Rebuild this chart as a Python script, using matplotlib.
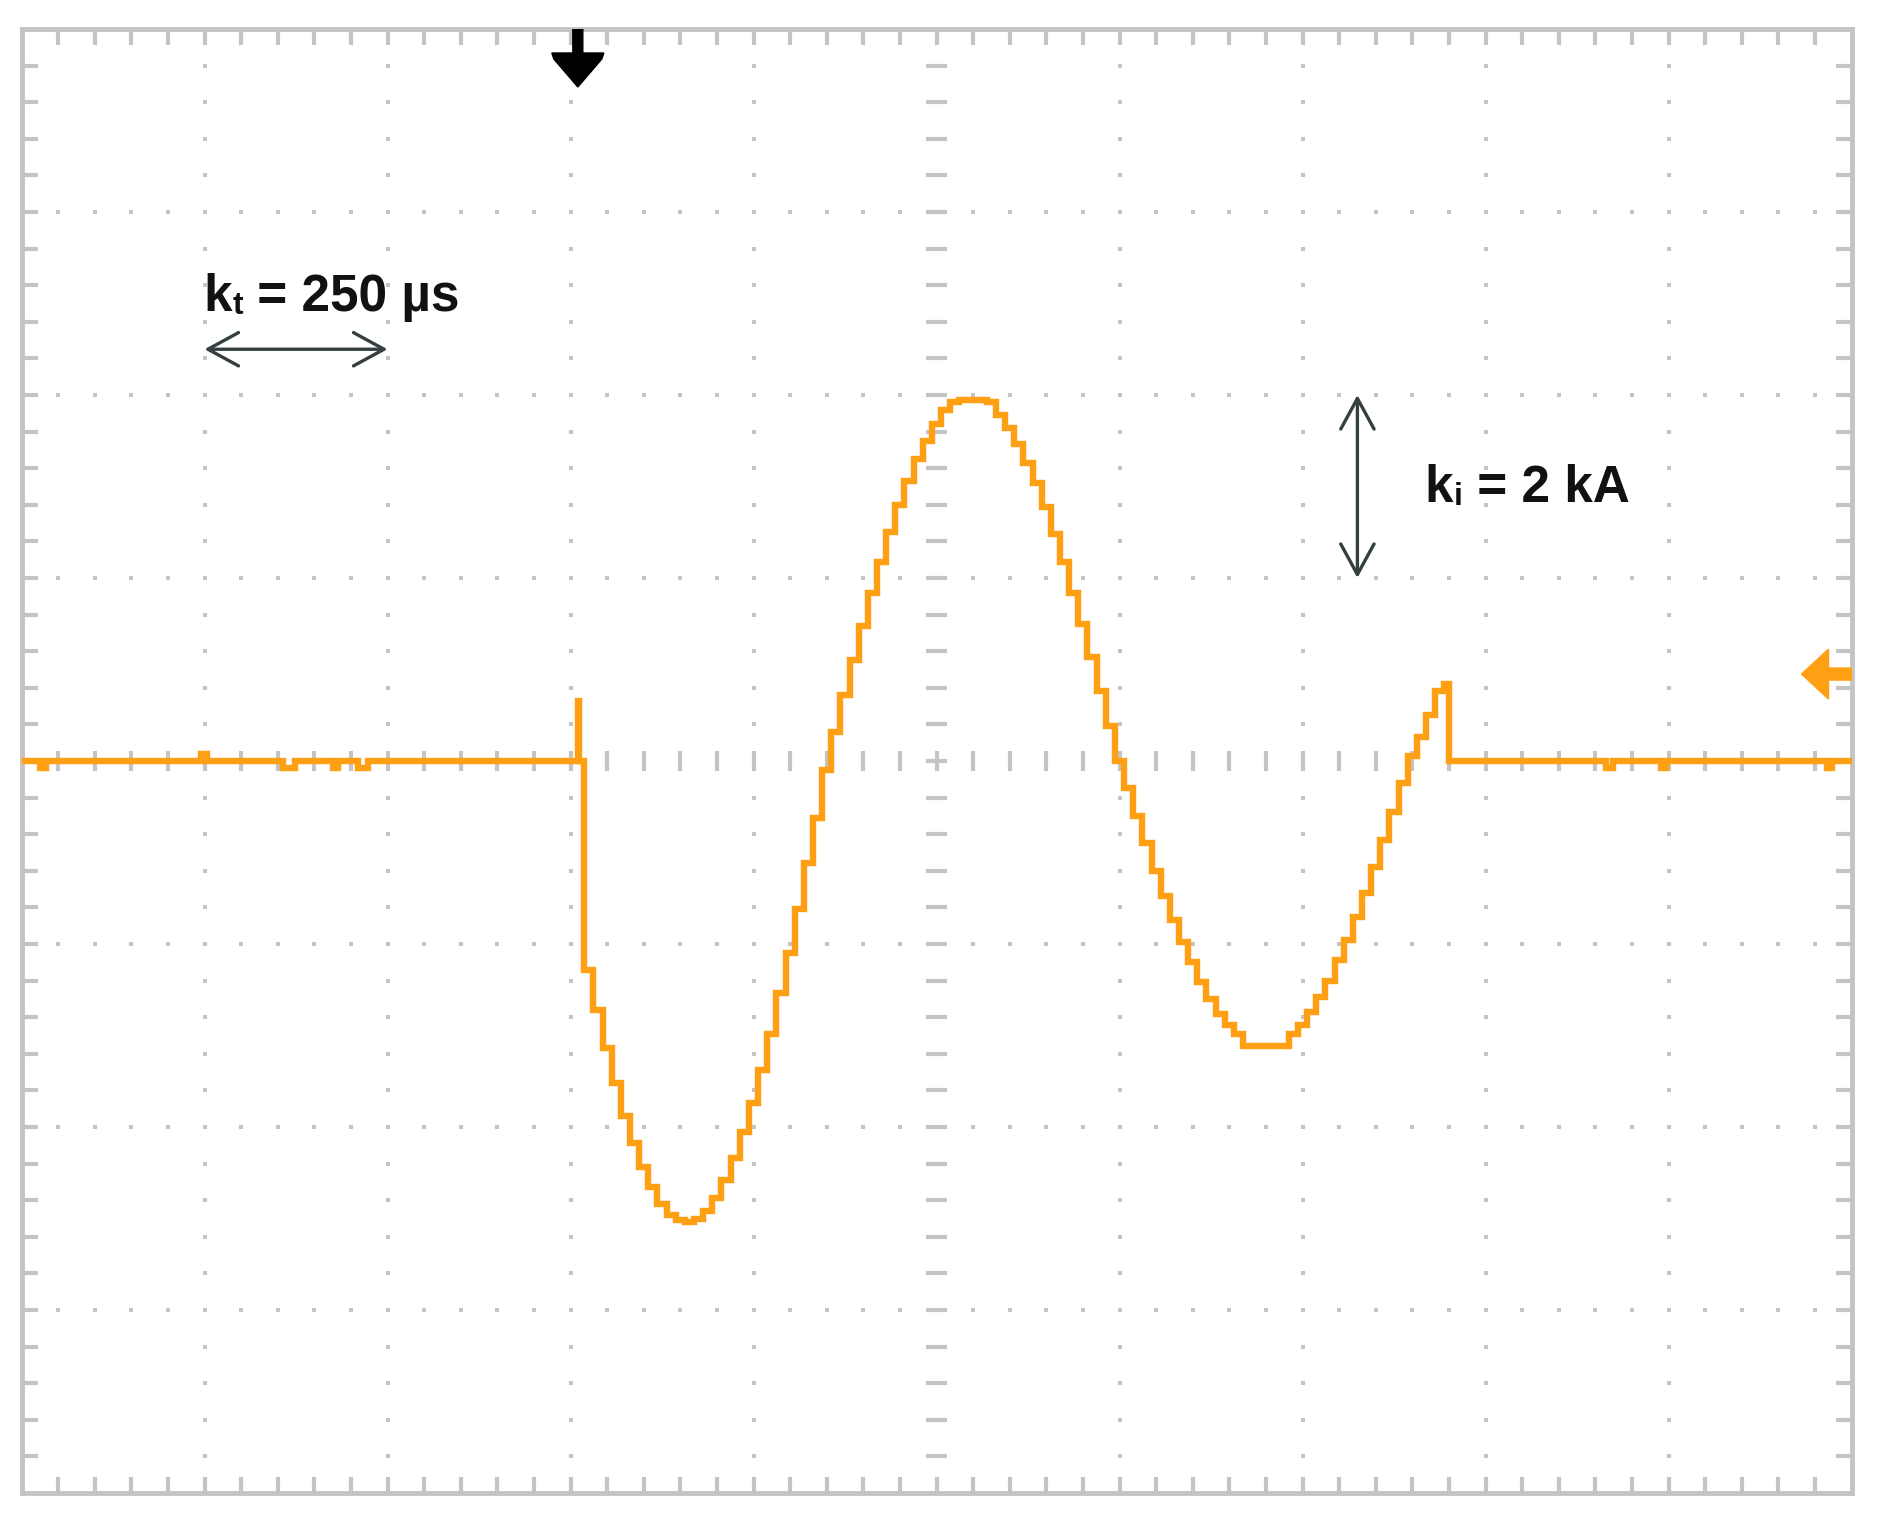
import numpy as np
import matplotlib
matplotlib.use("Agg")
import matplotlib.pyplot as plt
from matplotlib.patches import Polygon
from matplotlib.transforms import offset_copy

# ---------------- data ----------------
time_per_div_us = 250          # kt
current_per_div_kA = 2         # ki
n_xdiv = 10
n_ydiv = 8

trigger_time_us = 760.0
trigger_spike_kA = 0.66
trigger_spike_width_us = 2.0

osc_start_us = 768.75
osc_step_us = 12.5
osc_end_us = 1950.0
osc_current_kA = [
    -2.28, -2.72, -3.14, -3.52, -3.88, -4.18, -4.44, -4.66, -4.84, -4.96,
    -5.02, -5.04, -5.00, -4.92, -4.78, -4.58, -4.34, -4.06, -3.74, -3.38,
    -2.98, -2.54, -2.10, -1.62, -1.12, -0.62, -0.10, 0.32, 0.72, 1.10,
    1.48, 1.84, 2.18, 2.50, 2.80, 3.06, 3.30, 3.50, 3.68, 3.84,
    3.92, 3.94, 3.94, 3.94, 3.92, 3.78, 3.64, 3.46, 3.26, 3.04,
    2.78, 2.48, 2.18, 1.84, 1.50, 1.14, 0.76, 0.38, 0.00, -0.30,
    -0.60, -0.90, -1.20, -1.48, -1.74, -1.98, -2.20, -2.42, -2.60, -2.76,
    -2.88, -2.98, -3.12, -3.12, -3.12, -3.12, -3.12, -2.98, -2.88, -2.74,
    -2.58, -2.40, -2.18, -1.96, -1.70, -1.44, -1.16, -0.86, -0.56, -0.24,
    0.06, 0.26, 0.50, 0.76, 0.84,
]

glitch_time_us = [25, 245, 357, 425, 460, 2165, 2240, 2467]
glitch_width_us = [8, 8, 16, 7, 14, 9, 7, 7]
glitch_current_kA = [-0.08, 0.08, -0.08, -0.08, -0.08, -0.08, -0.08, -0.08]

ref_level_kA = 0.95

label_t_parts = ["k", "t", " = 250 µs"]
label_i_parts = ["k", "i", " = 2 kA"]

# ---------------- style ----------------
ORANGE = "#ffa014"
GRID = "#c4c4c4"
ARROW = "#34403f"

x_max = time_per_div_us * n_xdiv
y_half = current_per_div_kA * n_ydiv / 2

fig = plt.figure(figsize=(18.77, 15.35), dpi=100)
ax = fig.add_axes([21.5 / 1877, 42 / 1535, 1830 / 1877, 1464 / 1535])
ax.set_xlim(0, x_max)
ax.set_ylim(-y_half, y_half)
ax.set_xticks([])
ax.set_yticks([])
for s in ax.spines.values():
    s.set_color(GRID)
    s.set_linewidth(3.5)

px_x = time_per_div_us / 183.0
px_y = current_per_div_kA / 183.0

minor_x = np.arange(0, x_max + 1e-9, time_per_div_us / 5)
minor_y = np.arange(-y_half, y_half + 1e-9, current_per_div_kA / 5)
xc = x_max / 2

# dotted major grid
for k in range(1, n_xdiv):
    xv = k * time_per_div_us
    if abs(xv - xc) < 1e-9:
        continue
    ax.plot(np.full_like(minor_y[1:-1], xv), minor_y[1:-1], ls="none", marker="s",
            ms=3.1, mew=0, color=GRID, zorder=1)
for k in range(1, n_ydiv):
    yv = -y_half + k * current_per_div_kA
    if abs(yv) < 1e-9:
        continue
    ax.plot(minor_x[1:-1], np.full_like(minor_x[1:-1], yv), ls="none", marker="s",
            ms=3.1, mew=0, color=GRID, zorder=1)

# center axes ticks
ax.vlines(minor_x[1:-1], -10 * px_y, 10 * px_y, color=GRID, lw=3, zorder=1)
ax.hlines(minor_y[1:-1], xc - 11 * px_x, xc + 11 * px_x, color=GRID, lw=3, zorder=1)

# edge ticks
L = 16
ax.vlines(minor_x[1:-1], y_half - L * px_y, y_half, color=GRID, lw=3, zorder=1)
ax.vlines(minor_x[1:-1], -y_half, -y_half + L * px_y, color=GRID, lw=3, zorder=1)
ax.hlines(minor_y[1:-1], 0, L * px_x, color=GRID, lw=3, zorder=1)
ax.hlines(minor_y[1:-1], x_max - L * px_x, x_max, color=GRID, lw=3, zorder=1)

# ---------------- trace ----------------
t_pts = [0.0]
v_pts = [0.0]


def add_glitches(lo, hi):
    for g, w, a in zip(glitch_time_us, glitch_width_us, glitch_current_kA):
        if lo <= g < hi:
            t_pts.extend([g, g + w])
            v_pts.extend([a, 0.0])


add_glitches(0, trigger_time_us)
t_pts.extend([trigger_time_us, trigger_time_us + trigger_spike_width_us])
v_pts.extend([trigger_spike_kA, 0.0])
for k, v in enumerate(osc_current_kA):
    t_pts.append(osc_start_us + k * osc_step_us)
    v_pts.append(v)
t_pts.append(osc_end_us)
v_pts.append(0.0)
add_glitches(osc_end_us, x_max)
t_pts.append(x_max)
v_pts.append(0.0)

ax.plot(t_pts, v_pts, drawstyle="steps-post", color=ORANGE, lw=4.6,
        solid_joinstyle="miter", zorder=3)

# trigger marker (top, black down arrow)
tx = trigger_time_us
stem_bot = y_half - 24 * px_y
head_bot = y_half - 58 * px_y
trig = Polygon([(tx - 5 * px_x, y_half), (tx + 5 * px_x, y_half),
                (tx + 5 * px_x, stem_bot), (tx + 26 * px_x, stem_bot),
                (tx + 24 * px_x, stem_bot - 6 * px_y),
                (tx, head_bot), (tx - 24 * px_x, stem_bot - 6 * px_y),
                (tx - 26 * px_x, stem_bot),
                (tx - 5 * px_x, stem_bot)], closed=True, color="black", zorder=5)
ax.add_patch(trig)

# reference level marker (right, orange left arrow)
ry = ref_level_kA
tip_x = x_max - 50 * px_x
base_x = x_max - 23 * px_x
ref = Polygon([(tip_x, ry), (base_x, ry + 25 * px_y), (base_x, ry + 6 * px_y),
               (x_max, ry + 6 * px_y), (x_max, ry - 6 * px_y),
               (base_x, ry - 6 * px_y), (base_x, ry - 25 * px_y)],
              closed=True, color=ORANGE, zorder=5)
ax.add_patch(ref)

# scale annotations
ax.annotate("", xy=(time_per_div_us, 4.5), xytext=(2 * time_per_div_us, 4.5),
            arrowprops=dict(arrowstyle="<->,head_length=1.1,head_width=0.6",
                            lw=2.4, color=ARROW, mutation_scale=20,
                            shrinkA=0, shrinkB=0), zorder=6)
ax.annotate("", xy=(1825, 2 * current_per_div_kA), xytext=(1825, current_per_div_kA),
            arrowprops=dict(arrowstyle="<->,head_length=1.1,head_width=0.6",
                            lw=2.4, color=ARROW, mutation_scale=20,
                            shrinkA=0, shrinkB=0), zorder=6)

renderer = fig.canvas.get_renderer()
FS = 37


def subscript_label(x, y, parts):
    main, sub, rest = parts
    kw = dict(family="Liberation Sans", weight="bold", ha="left", va="baseline",
              color="#111111", zorder=6)
    t1 = ax.text(x, y, main, fontsize=FS, **kw)
    w1 = t1.get_window_extent(renderer).width * 72 / fig.dpi
    tr2 = offset_copy(ax.transData, fig=fig, x=w1 + 0.5, y=-2, units="points")
    t2 = ax.text(x, y, sub, fontsize=FS * 0.62, transform=tr2, **kw)
    w2 = t2.get_window_extent(renderer).width * 72 / fig.dpi
    tr3 = offset_copy(ax.transData, fig=fig, x=w1 + w2 + 0.5, y=0, units="points")
    ax.text(x, y, rest, fontsize=FS, transform=tr3, **kw)


subscript_label(248, 4.92, label_t_parts)
subscript_label(1917, 2.83, label_i_parts)

fig.savefig("out.png", dpi=100, facecolor="white")
